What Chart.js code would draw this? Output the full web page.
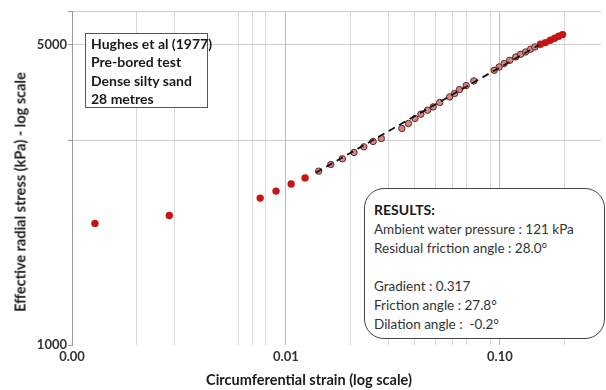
<!DOCTYPE html>
<html>
<head>
<meta charset="utf-8">
<script src="https://cdn.jsdelivr.net/npm/chart.js@4.4.1/dist/chart.umd.min.js"></script>
<style>
  html, body { margin: 0; padding: 0; background: #fff; }
  #wrap { position: relative; width: 606px; height: 390px; font-family: Lato, 'Open Sans', sans-serif; color: #222; }
  #chart { position: absolute; left: 0; top: 0; }
  .note { position: absolute; background: #fff; box-sizing: border-box; white-space: nowrap; }
  #info { left: 85px; top: 33px; width: 123px; height: 75px; border: 1.5px solid #555; padding: 1px 0 0 5px;
          font-weight: bold; font-size: 14px; line-height: 18.3px; color: #1a1a1a; }
  #results { left: 364px; top: 188px; width: 241px; height: 151px; border: 1.5px solid #444; border-radius: 20px;
             padding: 11px 0 0 9px; font-size: 13.5px; line-height: 19px; color: #333; }
  #results b { color: #1a1a1a; font-size: 14px; }
  .axt { position: absolute; font-weight: bold; font-size: 14.5px; color: #1a1a1a; white-space: nowrap; }
  #ytitle { left: 20px; top: 192px; transform: translate(-50%, -50%) rotate(-90deg); }
  #xtitle { left: 309px; top: 379px; transform: translate(-50%, -50%); }
</style>
</head>
<body>
<div id="wrap">
  <canvas id="chart" width="606" height="390"></canvas>
  <div class="note" id="info">Hughes et al (1977)<br>Pre-bored test<br>Dense silty sand<br>28 metres</div>
  <div class="note" id="results"><b>RESULTS:</b><br>Ambient water pressure : 121 kPa<br>Residual friction angle : 28.0°<br><br>Gradient : 0.317<br>Friction angle : 27.8°<br>Dilation angle :&nbsp; -0.2°</div>
  <div class="axt" id="ytitle">Effective radial stress (kPa) - log scale</div>
  <div class="axt" id="xtitle">Circumferential strain (log scale)</div>
</div>
<script>
// test points outside the fitted range (red)
const redStrain = [0.00128, 0.00285, 0.00758, 0.00899, 0.01058, 0.01229, 0.1548, 0.1633, 0.1722, 0.1803, 0.1882, 0.1964];
const redStress = [1920, 2004, 2199, 2283, 2371, 2451, 5020, 5065, 5129, 5183, 5240, 5287];

// points used for the fit (pink)
const fitPtStrain = [0.01422, 0.01621, 0.01836, 0.0208, 0.02314, 0.02555, 0.02792, 0.03481, 0.03738, 0.04011,
  0.04276, 0.04592, 0.0488, 0.05236, 0.05825, 0.06144, 0.06479, 0.0696, 0.07556, 0.0941,
  0.09926, 0.1047, 0.1113, 0.1186, 0.1251, 0.1319, 0.1392, 0.1457];
const fitPtStress = [2541, 2634, 2715, 2809, 2895, 2980, 3028, 3195, 3282, 3371,
  3450, 3524, 3587, 3673, 3784, 3854, 3937, 4022, 4123, 4366,
  4444, 4525, 4606, 4689, 4757, 4816, 4887, 4948];

// fitted straight line (log-log)
const lineStrain = [0.0138, 0.152];
const lineStress = [2520, 4995];

// axes
const xGridTicks = [0.002, 0.003, 0.006, 0.007, 0.008, 0.01, 0.02, 0.03, 0.04, 0.05, 0.06, 0.07, 0.09, 0.1, 0.2];
const xMajorTicks = [0.001, 0.01, 0.1];
const xTickLabels = ['0.00', '0.01', '0.10'];
const yGridTicks = [1000, 3000, 5000, 6000];
const yLabelTicks = [1000, 5000];

const xy = (xs, ys) => xs.map((x, i) => ({ x: x, y: ys[i] }));
const xTicksAll = [0.001].concat(xGridTicks);

const tickFont = { family: 'Lato, sans-serif', size: 13, weight: 'bold' };

new Chart(document.getElementById('chart'), {
  type: 'scatter',
  data: {
    datasets: [
      { data: xy(lineStrain, lineStress), showLine: true, pointRadius: 0, borderColor: '#111', borderWidth: 1.8, borderDash: [7, 5] },
      { data: xy(fitPtStrain, fitPtStress), pointRadius: 3.2, backgroundColor: '#d98484', borderColor: '#5a2626', borderWidth: 1 },
      { data: xy(redStrain, redStress), pointRadius: 3.7, backgroundColor: '#c81414', borderColor: '#c81414', borderWidth: 0 }
    ]
  },
  options: {
    responsive: false, animation: false, devicePixelRatio: 1,
    layout: { padding: { top: 11, left: 0, right: 0, bottom: 0 } },
    plugins: { legend: { display: false }, tooltip: { enabled: false } },
    scales: {
      x: {
        type: 'logarithmic', min: 0.001, max: 0.297,
        afterFit: s => { s.height = 45; },
        afterBuildTicks: s => { s.ticks = xTicksAll.map(v => ({ value: v })); },
        border: { display: false },
        grid: { drawTicks: false, color: c => xMajorTicks.includes(c.tick && c.tick.value) ? '#bbbbbb' : '#d9d9d9' },
        ticks: {
          autoSkip: false, maxRotation: 0, padding: 4, color: '#333', font: tickFont,
          callback: v => { const i = xMajorTicks.indexOf(v); return i >= 0 ? xTickLabels[i] : ''; }
        }
      },
      y: {
        type: 'logarithmic', min: 1000, max: 6000,
        afterFit: s => { s.width = 72; },
        afterBuildTicks: s => { s.ticks = yGridTicks.map(v => ({ value: v })); },
        border: { display: true, color: '#9a9a9a', width: 1 },
        grid: {
          drawTicks: true, tickLength: 4, tickColor: '#9a9a9a',
          color: c => (c.tick && c.tick.value === 1000) ? 'rgba(0,0,0,0)' : '#cccccc'
        },
        ticks: {
          autoSkip: false, padding: 1, color: '#333', font: tickFont,
          callback: v => yLabelTicks.includes(v) ? String(v) : ''
        }
      }
    }
  }
});
</script>
</body>
</html>
